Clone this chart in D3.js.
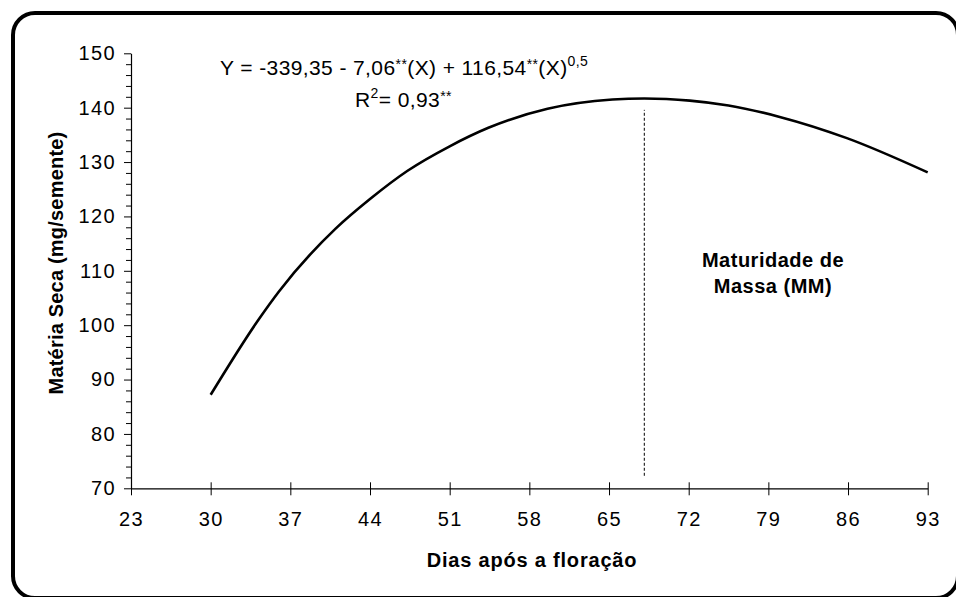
<!DOCTYPE html>
<html>
<head>
<meta charset="utf-8">
<script src="https://cdn.jsdelivr.net/npm/d3@7"></script>
<style>
  html, body { margin: 0; padding: 0; background: #fff; }
  svg { display: block; font-family: "Liberation Sans", Arial, sans-serif; }
</style>
</head>
<body>
<svg id="chart" width="956" height="597"></svg>
<script>
// Dry matter per seed over days after flowering (fitted curve)
const days    = [30, 34.2, 36, 41, 44, 47.3, 51, 54.4, 59.6, 65.3, 68.1, 72.1, 75.5, 80, 85.9, 93];
const dryMass = [87.2, 101.0, 106.2, 117.8, 123.2, 128.4, 132.9, 136.3, 139.8, 141.5, 141.7, 141.3, 140.4, 138.3, 134.4, 128.1];

// Mass maturity marker
const maturityDay = 68.1;
const maturityRange = [72.3, 139.6];

const xTicks = [23, 30, 37, 44, 51, 58, 65, 72, 79, 86, 93];
const yTicks = [70, 80, 90, 100, 110, 120, 130, 140, 150];
const yMinorTicks = d3.range(70, 151, 2).filter(v => v % 10 !== 0);

const svg = d3.select("#chart");
const FONT = "Liberation Sans, Arial, sans-serif";

const x = d3.scaleLinear().domain([23, 93]).range([131, 927.7]);
const y = d3.scaleLinear().domain([70, 150]).range([488.3, 53.3]);

// Rounded frame
svg.append("rect")
  .attr("x", 13).attr("y", 13)
  .attr("width", 945).attr("height", 585)
  .attr("rx", 22).attr("ry", 22)
  .attr("fill", "none").attr("stroke", "#000").attr("stroke-width", 4);

// Y axis minor ticks
svg.append("g")
  .attr("transform", `translate(${x(23)},0)`)
  .call(d3.axisLeft(y).tickValues(yMinorTicks).tickSize(5).tickFormat(""))
  .call(g => g.select(".domain").remove())
  .call(g => g.selectAll("line").attr("stroke", "#000"));

// Y axis
svg.append("g")
  .attr("transform", `translate(${x(23)},0)`)
  .call(d3.axisLeft(y).tickValues(yTicks).tickSize(7).tickSizeOuter(0).tickPadding(8))
  .call(g => g.select(".domain").attr("stroke", "#000").attr("stroke-width", 1.2))
  .call(g => g.selectAll("line").attr("stroke", "#000"))
  .call(g => g.selectAll("text").attr("font-size", 20).attr("fill", "#000")
    .attr("letter-spacing", 1.4).attr("font-family", FONT));

// X axis with ticks crossing the line
svg.append("g")
  .attr("transform", `translate(0,${y(70)})`)
  .call(d3.axisBottom(x).tickValues(xTicks).tickSize(7).tickSizeOuter(0).tickPadding(17))
  .call(g => g.select(".domain").attr("stroke", "#000").attr("stroke-width", 1.2))
  .call(g => g.selectAll(".tick line").attr("stroke", "#000").attr("y1", -6))
  .call(g => g.selectAll("text").attr("font-size", 20).attr("fill", "#000")
    .attr("letter-spacing", 1.4).attr("font-family", FONT));

// Fitted curve
const pts = days.map((d, i) => [d, dryMass[i]]);
svg.append("path")
  .datum(pts)
  .attr("fill", "none")
  .attr("stroke", "#000")
  .attr("stroke-width", 2.6)
  .attr("stroke-linejoin", "round")
  .attr("d", d3.line().x(d => x(d[0])).y(d => y(d[1])).curve(d3.curveMonotoneX));

// Maturity marker line
svg.append("line")
  .attr("x1", x(maturityDay)).attr("x2", x(maturityDay))
  .attr("y1", y(maturityRange[0])).attr("y2", y(maturityRange[1]))
  .attr("stroke", "#000").attr("stroke-width", 1)
  .attr("stroke-dasharray", "3,2");

// Regression equation
const eq = svg.append("text")
  .attr("x", 220).attr("y", 75)
  .attr("font-size", 21).attr("letter-spacing", 0.4).attr("fill", "#000");
eq.append("tspan").text("Y = -339,35 - 7,06");
eq.append("tspan").attr("font-size", 14).attr("dy", -6).text("**");
eq.append("tspan").attr("dy", 6).text("(X) + 116,54");
eq.append("tspan").attr("font-size", 14).attr("dy", -6).text("**");
eq.append("tspan").attr("dy", 6).text("(X)");
eq.append("tspan").attr("font-size", 14).attr("dy", -9).text("0,5");

const r2 = svg.append("text")
  .attr("x", 355).attr("y", 107)
  .attr("font-size", 21).attr("letter-spacing", 0.4).attr("fill", "#000");
r2.append("tspan").text("R");
r2.append("tspan").attr("font-size", 14).attr("dy", -9).text("2");
r2.append("tspan").attr("dy", 9).text("= 0,93");
r2.append("tspan").attr("font-size", 14).attr("dy", -6).text("**");

// Annotation
const ann = svg.append("text")
  .attr("text-anchor", "middle")
  .attr("font-size", 20).attr("font-weight", "bold")
  .attr("letter-spacing", 0.5).attr("fill", "#000");
ann.append("tspan").attr("x", 773).attr("y", 267).text("Maturidade de");
ann.append("tspan").attr("x", 773).attr("y", 293).text("Massa (MM)");

// Axis titles
svg.append("text")
  .attr("x", 532).attr("y", 567)
  .attr("text-anchor", "middle")
  .attr("font-size", 20).attr("font-weight", "bold").attr("letter-spacing", 0.8)
  .text("Dias após a floração");

svg.append("text")
  .attr("transform", "translate(63,263) rotate(-90)")
  .attr("text-anchor", "middle")
  .attr("font-size", 20).attr("font-weight", "bold").attr("letter-spacing", 0.2)
  .text("Matéria Seca (mg/semente)");
</script>
</body>
</html>
